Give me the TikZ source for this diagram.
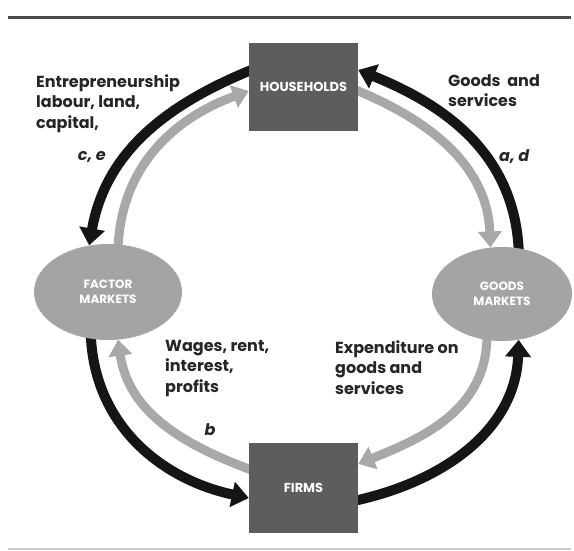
\documentclass[tikz,border=0pt]{standalone}
\usepackage{fontspec}
\setmainfont{Poppins}
\usetikzlibrary{arrows.meta,shapes.geometric}
\pgfdeclarelayer{paper}
\pgfdeclarelayer{background}
\pgfsetlayers{paper,background,main}
\definecolor{boxgray}{HTML}{5B5D5F}
\definecolor{ellgray}{HTML}{A4A4A4}
\definecolor{arrgray}{HTML}{A8A8A8}
\definecolor{arrblack}{HTML}{151515}
\tikzset{
  box/.style={draw=none,fill=boxgray,minimum width=109pt,minimum height=88pt,inner sep=0pt,
    text=white,font=\bfseries\fontsize{13}{15}\selectfont,align=center},
  mkt/.style={ellipse,draw=none,fill=ellgray,inner sep=0pt,
    text=white,font=\bfseries\fontsize{12}{15}\selectfont,align=center},
  blackflow/.style={draw=arrblack,line width=10pt,shorten <=-5pt,
    -{Triangle[width=25pt,length=17pt]}},
  grayflow/.style={draw=arrgray,line width=9pt,shorten <=-5pt,
    -{Triangle[width=23pt,length=16pt]}},
  lbl/.style={inner sep=0pt,align=left,text=black!85,font=\bfseries\fontsize{16}{20.5}\selectfont},
  lblit/.style={inner sep=0pt,text=black!85,font=\bfseries\itshape\fontsize{16}{20}\selectfont}
}
\begin{document}
\begin{tikzpicture}[x=1pt,y=1pt]
\useasboundingbox (0,0) rectangle (574,550);
\begin{pgfonlayer}{paper}
\fill[white] (0,0) rectangle (574,550);
\end{pgfonlayer}
% rules
\coordinate (tl) at (8,532);
\coordinate (tr) at (571,532);
\draw[line width=3pt,color=black!70] (tl) -- (tr);
\coordinate (bl) at (8,1.5);
\coordinate (br) at (571,1.5);
\draw[line width=2pt,color=black!20] (bl) -- (br);
% nodes
\node[box] (hh) at (303.5,463) {HOUSEHOLDS};
\node[box,minimum height=90pt] (ff) at (303.5,62) {FIRMS};
\node[mkt,minimum width=148pt,minimum height=96pt] (fm) at (108,258) {FACTOR\\MARKETS};
\node[mkt,minimum width=140pt,minimum height=94pt] (gm) at (502,256) {GOODS\\MARKETS};
% flows
\begin{pgfonlayer}{background}
\draw[blackflow] ([yshift=16pt]hh.west) to[out=202,in=80] (fm.112);
\draw[grayflow] (fm.78) to[out=88,in=200] ([yshift=-4pt]hh.west);
\draw[blackflow] (gm.70) to[out=92,in=-22] ([yshift=17pt]hh.east);
\draw[grayflow] ([yshift=-4pt]hh.east) to[out=-22,in=92] (gm.104);
\draw[blackflow] (fm.250) to[out=-88,in=168] ([yshift=-10pt]ff.west);
\draw[grayflow] ([yshift=19pt]ff.west) to[out=160,in=-82] (fm.282);
\draw[blackflow] ([yshift=-12pt]ff.east) to[out=12,in=-92] (gm.290);
\draw[grayflow] (gm.252) to[out=-90,in=22] ([yshift=24pt]ff.east);
\end{pgfonlayer}
% labels
\node[lbl,anchor=north west] (t1) at (36,476) {Entrepreneurship\\labour, land,\\capital,};
\node[lblit,anchor=east] (t2) at (106,393) {c, e};
\node[lbl,anchor=north west] (t3) at (448,476) {Goods\ \ and\\services};
\node[lblit,anchor=west] (t4) at (499,393) {a, d};
\node[lbl,anchor=north west] (t5) at (165,210) {Wages, rent,\\interest,\\profits};
\node[lbl,anchor=north west] (t6) at (335,210) {Expenditure on\\goods and\\services};
\node[lblit,anchor=center] (t7) at (210,120) {b};
\end{tikzpicture}
\end{document}
